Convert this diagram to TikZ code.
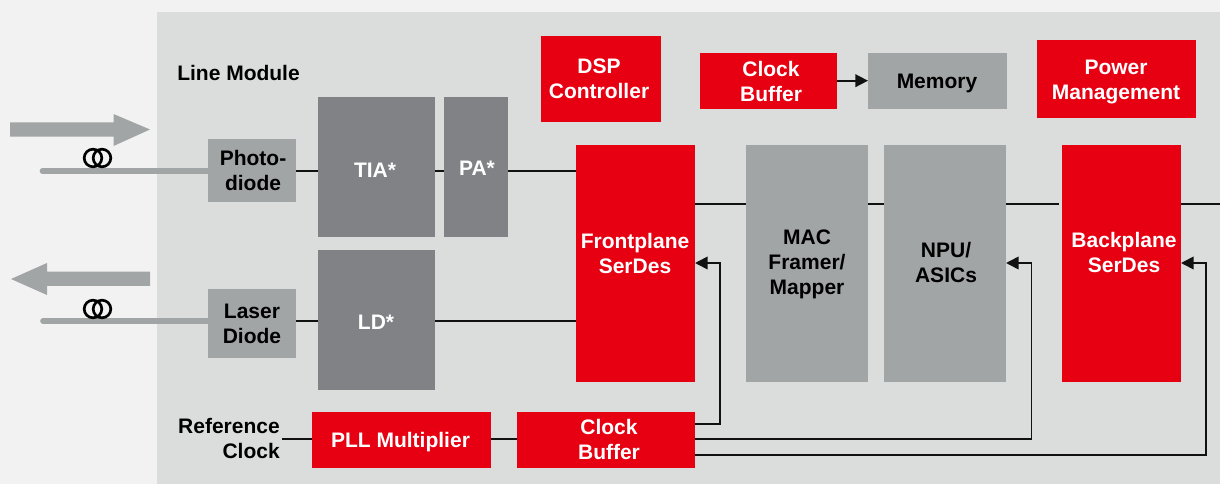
\documentclass[tikz,border=0pt]{standalone}
\usepackage{fontspec}
\setmainfont{Liberation Sans}
\usetikzlibrary{arrows.meta}
\definecolor{pagebg}{HTML}{F2F2F2}
\definecolor{panelbg}{HTML}{DBDDDC}
\definecolor{redbox}{HTML}{E60012}
\definecolor{darkbox}{HTML}{808285}
\definecolor{lightbox}{HTML}{A1A5A5}
\definecolor{wire}{HTML}{111111}
\tikzset{
  x=0.75pt,y=-0.75pt,
  lbl/.style={inner sep=0pt,align=center,font=\fontsize{15.75}{18.75}\selectfont\bfseries},
  onred/.style={lbl,text=white},
  ondark/.style={lbl,text=white},
  onlight/.style={lbl,text=black},
  conn/.style={draw=wire,line width=1.25pt},
  arr/.style={conn,-{Triangle[length=9.5pt,width=9.5pt]}},
  fiber/.style={draw=lightbox,line width=4.2pt,line cap=round},
  loopring/.style={draw=black,line width=2pt,circle,minimum size=13.2pt,inner sep=0pt},
  bigarrow/.style={fill=lightbox,draw=none}
}
% \bx{name}{x1}{y1}{x2}{y2}{fill}{text style}{tx}{ty}{text}
\newcommand{\bx}[9]{%
  \fill[#6] (#2,#3) rectangle (#4,#5);
  \path (#2,#3) coordinate (#1-nw) (#4,#5) coordinate (#1-se);
  \node[#7] (#1) at (#8,#9) {\bxtext};}
\begin{document}
\begin{tikzpicture}
\useasboundingbox (0,0) rectangle (1220,484);
\fill[pagebg] (0,0) rectangle (1220,484);
\fill[panelbg] (157,12) rectangle (1220,484);

% big direction arrows
\fill[bigarrow] (10,122.3) -- (113.5,122.3) -- (113.5,114) -- (150,129.5) -- (113.5,146) -- (113.5,136.7) -- (10,136.7) -- cycle;
\fill[bigarrow] (150,271.7) -- (47,271.7) -- (47,263) -- (11,279) -- (47,295) -- (47,286) -- (150,286) -- cycle;

% boxes
\def\bxtext{Photo-\\diode}\bx{photo}{208}{139}{296}{202}{lightbox}{onlight}{253}{170}
\def\bxtext{Laser\\Diode}\bx{laser}{208}{289}{296}{358}{lightbox}{onlight}{252}{323.5}
\def\bxtext{TIA*}\bx{tia}{318}{97}{435}{237}{darkbox}{ondark}{375}{170}
\def\bxtext{PA*}\bx{pa}{444}{97}{508}{237}{darkbox}{ondark}{477}{168}
\def\bxtext{LD*}\bx{ld}{318}{250}{435}{390}{darkbox}{ondark}{376}{322}
\def\bxtext{DSP\\Controller}\bx{dsp}{541}{36}{661}{122}{redbox}{onred}{599}{79}
\def\bxtext{Clock\\Buffer}\bx{cbtop}{700}{53}{837}{109}{redbox}{onred}{771}{81.5}
\def\bxtext{Memory}\bx{mem}{868}{53}{1007}{109}{lightbox}{onlight}{937}{83.5}
\def\bxtext{Power\\Management}\bx{power}{1037}{40}{1196}{118}{redbox}{onred}{1116}{82.5}
\def\bxtext{Frontplane\\SerDes}\bx{front}{576}{145}{695}{382}{redbox}{onred}{635}{253.5}
\def\bxtext{MAC\\Framer/\\Mapper}\bx{mac}{746}{145}{868}{382}{lightbox}{onlight}{807}{264.5}
\def\bxtext{NPU/\\ASICs}\bx{npu}{884}{145}{1006}{382}{lightbox}{onlight}{946}{262.5}
\def\bxtext{Backplane\\SerDes}\bx{back}{1062}{145}{1181}{382}{redbox}{onred}{1124}{252.5}
\def\bxtext{PLL Multiplier}\bx{pll}{312}{412}{491}{468}{redbox}{onred}{400.5}{442.5}
\def\bxtext{Clock\\Buffer}\bx{cbbot}{517}{412}{695}{468}{redbox}{onred}{609}{439.5}

% labels without boxes
\node[onlight,anchor=west] (linemod) at (177,73) {Line Module};
\node[onlight,align=right,anchor=east] (refclk) at (280,438) {Reference\\Clock};

% level coordinates
\coordinate (yrx) at (0,171);
\coordinate (ytx) at (0,321);
\coordinate (ybus) at (0,204);
\coordinate (yclk) at (0,263);
\coordinate (ytop) at (0,80.7);
\coordinate (yb1) at (0,424);
\coordinate (yb2) at (0,439);
\coordinate (yb3) at (0,455);
\coordinate (rightedge) at (1220,204);
\coordinate (fiberrx) at (42.5,171);
\coordinate (fibertx) at (43,321);
\coordinate (refend) at (282,439);
\coordinate (x1) at (720,0);
\coordinate (x2) at (1031.5,0);
\coordinate (x3) at (1206,0);

% fibres
\draw[fiber] (fiberrx) -- (photo-nw |- fiberrx);
\draw[fiber] (fibertx) -- (laser-nw |- fibertx);
\node[loopring] (r1) at (93,158) {};
\node[loopring] (r2) at (102,158) {};
\node[loopring] (r3) at (93,309) {};
\node[loopring] (r4) at (102,309) {};

% signal path
\draw[conn] (photo-se |- yrx) -- (tia-nw |- yrx);
\draw[conn] (tia-se |- yrx) -- (pa-nw |- yrx);
\draw[conn] (pa-se |- yrx) -- (front-nw |- yrx);
\draw[conn] (laser-se |- ytx) -- (ld-nw |- ytx);
\draw[conn] (ld-se |- ytx) -- (front-nw |- ytx);
\draw[conn] (front-se |- ybus) -- (mac-nw |- ybus);
\draw[conn] (mac-se |- ybus) -- (npu-nw |- ybus);
\draw[conn,shorten >=2.25pt] (npu-se |- ybus) -- (back-nw |- ybus);
\draw[conn] (back-se |- ybus) -- (rightedge);
\draw[arr] (cbtop-se |- ytop) -- (mem-nw |- ytop);

% clock path
\draw[conn] (refend) -- (pll-nw |- refend);
\draw[conn] (pll-se |- yb2) -- (cbbot-nw |- yb2);
\draw[arr] (cbbot-se |- yb1) -| (x1 |- yclk) -- (front-se |- yclk);
\draw[arr] (cbbot-se |- yb2) -| (x2 |- yclk) -- (npu-se |- yclk);
\draw[arr] (cbbot-se |- yb3) -| (x3 |- yclk) -- (back-se |- yclk);
\end{tikzpicture}
\end{document}
